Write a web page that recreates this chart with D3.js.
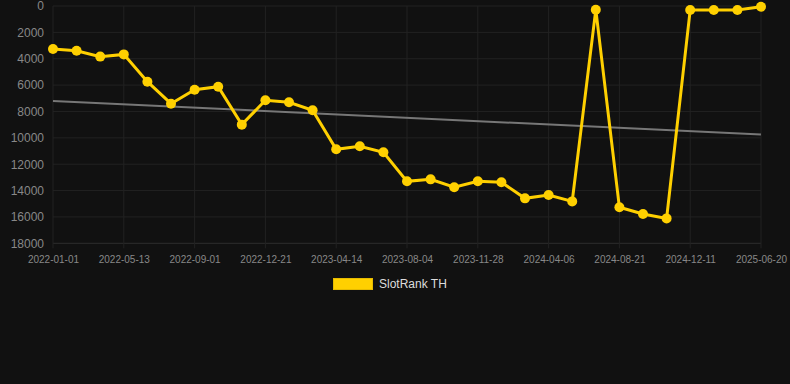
<!DOCTYPE html>
<html><head><meta charset="utf-8">
<script src="https://cdn.jsdelivr.net/npm/d3@7"></script>
<style>html,body{margin:0;padding:0;background:#111111;}svg{display:block;}</style>
</head><body>
<svg id="c" width="790" height="384"></svg>
<script>
const dates = ["2022-01-01","2022-02-14","2022-03-30","2022-05-13","2022-06-19","2022-07-26","2022-09-01","2022-10-08","2022-11-14","2022-12-21","2023-01-28","2023-03-07","2023-04-14","2023-05-21","2023-06-27","2023-08-04","2023-09-11","2023-10-20","2023-11-28","2024-01-10","2024-02-23","2024-04-06","2024-05-21","2024-07-06","2024-08-21","2024-09-27","2024-11-04","2024-12-11","2025-02-13","2025-04-17","2025-06-20"];
const rankTH = [3260,3390,3840,3670,5740,7410,6350,6120,9000,7150,7300,7910,10870,10640,11100,13300,13150,13750,13300,13370,14590,14340,14820,280,15270,15780,16110,300,300,300,60];
const yTicks = [0,2000,4000,6000,8000,10000,12000,14000,16000,18000];
const xTickLabels = dates.filter((d,i)=>i%3===0);
const seriesName = "SlotRank TH";

(function(){
const svg = d3.select("#c");
const pL = 53, pR = 761, pT = 6, pB = 243.3;
const x = d3.scalePoint().domain(dates).range([pL,pR]);
const y = d3.scaleLinear().domain([0,18000]).range([pT,pB]);
const font = "'Liberation Sans', Arial, Helvetica, sans-serif";

// grid
const g = svg.append("g");
g.selectAll("line.h").data(yTicks).join("line")
  .attr("x1",pL).attr("x2",pR).attr("y1",d=>y(d)).attr("y2",d=>y(d))
  .attr("stroke",d=>d===18000?"#2e2e2e":"#222222").attr("stroke-width",1);
g.selectAll("line.v").data(xTickLabels).join("line")
  .attr("x1",d=>x(d)).attr("x2",d=>x(d)).attr("y1",pT).attr("y2",pB+5)
  .attr("stroke","#222222").attr("stroke-width",1);

// y axis labels
const yAxis = svg.append("g").attr("transform",`translate(${pL-9},0)`)
  .call(d3.axisLeft(y).tickValues(yTicks).tickSize(0).tickPadding(0).tickFormat(d3.format("d")));
yAxis.select(".domain").remove();
yAxis.selectAll("text").attr("fill","#888888").style("font-family",font).style("font-size","12px");

// x axis labels
const xAxis = svg.append("g").attr("transform",`translate(0,${pB+13})`)
  .call(d3.axisBottom(x).tickValues(xTickLabels).tickSize(0).tickPadding(0));
xAxis.select(".domain").remove();
xAxis.selectAll("text").attr("fill","#888888").attr("dy","0.71em").style("font-family",font).style("font-size","10px");

// trend line (linear regression over index)
const n = rankTH.length;
const idx = d3.range(n);
const mx = d3.mean(idx), my = d3.mean(rankTH);
const slope = d3.sum(idx,i=>(i-mx)*(rankTH[i]-my))/d3.sum(idx,i=>(i-mx)*(i-mx));
const icpt = my - slope*mx;
svg.append("line")
  .attr("x1",x(dates[0])).attr("y1",y(icpt))
  .attr("x2",x(dates[n-1])).attr("y2",y(icpt+slope*(n-1)))
  .attr("stroke","#777777").attr("stroke-width",2);

// series line
const col = "#ffd000";
svg.append("path").datum(rankTH)
  .attr("d",d3.line().x((d,i)=>x(dates[i])).y(d=>y(d)))
  .attr("fill","none").attr("stroke",col).attr("stroke-width",3).attr("stroke-linejoin","miter");
svg.selectAll("circle.p").data(rankTH).join("circle")
  .attr("cx",(d,i)=>x(dates[i])).attr("cy",d=>y(d)).attr("r",5).attr("fill",col);

// legend
const lg = svg.append("g");
lg.append("rect").attr("x",333.5).attr("y",278.5).attr("width",39).attr("height",11)
  .attr("fill",col).attr("stroke","#e6bb00").attr("stroke-width",1);
lg.append("text").attr("x",379).attr("y",284).attr("dy","0.35em").text(seriesName)
  .attr("fill","#dddddd").style("font-family",font).style("font-size","12px");
})();
</script>
</body></html>
